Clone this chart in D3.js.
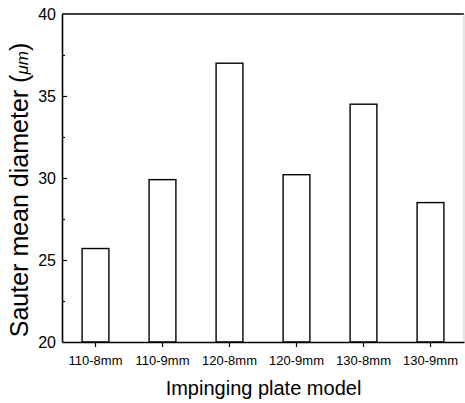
<!DOCTYPE html>
<html lang="en">
<head>
<meta charset="UTF-8">
<title>Sauter mean diameter</title>
<script src="https://d3js.org/d3.v7.min.js"></script>
<style>
  body { margin: 0; background: #fff; }
  text { font-family: "Liberation Sans", Arial, sans-serif; fill: #000; }
</style>
</head>
<body>
<div id="chart"></div>
<script>
    let models = ['110-8mm','110-9mm','120-8mm','120-9mm','130-8mm','130-9mm'],
        smd = [25.7, 29.9, 37.0, 30.2, 34.5, 28.5],
        yTicks = [20, 25, 30, 35, 40],
        yMinor = [22.5, 27.5, 32.5, 37.5];

    let W = 465, H = 403,
        m = {left: 62, top: 14, right: 1, bottom: 61},
        svg = d3.select('#chart').append('svg').attr('width', W).attr('height', H);

    let x = d3.scaleBand().domain(models).range([m.left, W - m.right]).paddingInner(0.6).paddingOuter(0.3),
        y = d3.scaleLinear().domain([20, 40]).range([H - m.bottom, m.top]);

    // bars
    svg.selectAll('rect.bar').data(models).enter().append('rect')
        .attr('class', 'bar')
        .attr('x', d => x(d))
        .attr('width', x.bandwidth())
        .attr('y', (d, i) => y(smd[i]))
        .attr('height', (d, i) => y(20) - y(smd[i]))
        .style('fill', '#fff').style('stroke', '#000').style('stroke-width', 1.4);

    // frame: top in black, right edge faint
    svg.append('line').attr('x1', m.left).attr('x2', W - m.right).attr('y1', m.top).attr('y2', m.top)
        .style('stroke', '#000').style('stroke-width', 1.6);
    svg.append('line').attr('x1', W - m.right).attr('x2', W - m.right).attr('y1', m.top).attr('y2', y(20))
        .style('stroke', '#ccc').style('stroke-width', 1);

    // y axis, ticks inward
    let yAxis = svg.append('g').attr('transform', `translate(${m.left},0)`)
        .call(d3.axisLeft(y).tickValues(yTicks).tickSize(-5).tickPadding(6).tickSizeOuter(0));
    yAxis.selectAll('.tick').filter(d => d == 20 || d == 40).select('line').remove();
    svg.append('g').attr('transform', `translate(${m.left},0)`)
        .call(d3.axisLeft(y).tickValues(yMinor).tickSize(-3).tickFormat('').tickSizeOuter(0))
        .select('.domain').remove();
    yAxis.selectAll('text').style('font-size', '16px');

    // x axis, ticks outward
    let xAxis = svg.append('g').attr('transform', `translate(0,${y(20)})`)
        .call(d3.axisBottom(x).tickSize(5).tickPadding(9).tickSizeOuter(0));
    xAxis.selectAll('text').style('font-size', '13px');

    svg.selectAll('.domain').style('stroke', '#000').style('stroke-width', 1.6);
    svg.selectAll('.tick line').style('stroke', '#000').style('stroke-width', 1.2);

    // titles
    svg.append('text').attr('x', (m.left + W) / 2).attr('y', 395)
        .attr('text-anchor', 'middle').style('font-size', '20px')
        .text('Impinging plate model');
    let yt = svg.append('text').attr('transform', 'translate(28,190) rotate(-90)')
        .attr('text-anchor', 'middle').style('font-size', '25px');
    yt.append('tspan').text('Sauter mean diameter (');
    yt.append('tspan').style('font-style', 'italic').style('font-size', '17px').text('μm');
    yt.append('tspan').text(')');
</script>
</body>
</html>
